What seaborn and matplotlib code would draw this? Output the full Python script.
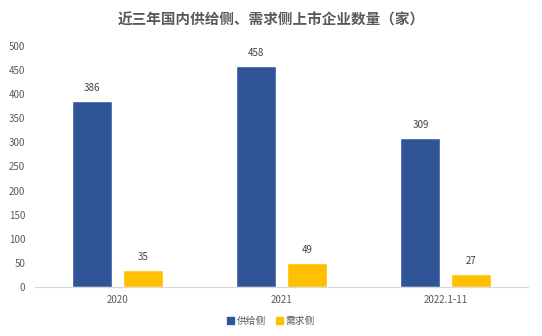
import matplotlib
matplotlib.use("Agg")
import matplotlib.pyplot as plt
import seaborn as sns
import pandas as pd

years = ["2020", "2021", "2022.1-11"]
supply_side = [386, 458, 309]
demand_side = [35, 49, 27]
series_names = ["供给侧", "需求侧"]
y_ticks = [0, 50, 100, 150, 200, 250, 300, 350, 400, 450, 500]

df = pd.DataFrame({
    "year": years * 2,
    "count": supply_side + demand_side,
    "side": [series_names[0]] * 3 + [series_names[1]] * 3,
})

sns.set_theme(style="white")
plt.rcParams["font.family"] = ["Noto Sans CJK SC", "DejaVu Sans"]

fig = plt.figure(figsize=(5.42, 3.36), dpi=100)
ax = fig.add_axes([35 / 542, 1 - 287 / 336, (528 - 35) / 542, (287 - 46) / 336])

palette = {series_names[0]: "#2F5597", series_names[1]: "#FFC000"}
sns.barplot(data=df, x="year", y="count", hue="side", order=years,
            hue_order=series_names, palette=palette, width=0.62, gap=0.21,
            saturation=1, ax=ax, legend=False)

for cont in ax.containers:
    ax.bar_label(cont, fmt="%d", padding=6, fontsize=7, color="#404040")

ax.set_ylim(0, 500)
ax.set_yticks(y_ticks)
ax.set_xlim(-0.5, 2.5)
ax.set_xlabel("")
ax.set_ylabel("")
ax.tick_params(axis="both", length=0, labelsize=7, labelcolor="#595959")
ax.tick_params(axis="y", pad=7)
ax.tick_params(axis="x", pad=6)
for s in ["top", "right", "left"]:
    ax.spines[s].set_visible(False)
ax.spines["bottom"].set_color("#D9D9D9")
ax.spines["bottom"].set_linewidth(0.8)

fig.text(0.5, 1 - 20 / 336, "近三年国内供给侧、需求侧上市企业数量（家）", ha="center", va="center",
         fontsize=10.5, fontweight="bold", color="#595959")

handles = [plt.Rectangle((0, 0), 1, 1, color=palette[n]) for n in series_names]
fig.legend(handles, series_names, loc="center", bbox_to_anchor=(0.5, 1 - 321 / 336),
           ncol=2, frameon=False, fontsize=7, handlelength=0.7, handleheight=0.7,
           handletextpad=0.3, columnspacing=1.0, labelcolor="#595959")

fig.savefig("out.png", dpi=100, facecolor="white")
